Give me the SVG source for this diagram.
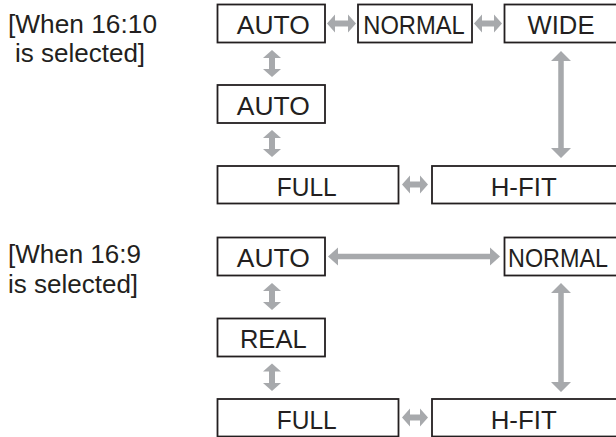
<svg xmlns="http://www.w3.org/2000/svg" width="616" height="437" viewBox="0 0 616 437">
<style>
.box rect{fill:#fff;stroke:#231f20;stroke-width:1.8}
.box text{font-family:"Liberation Sans",Arial,sans-serif;font-size:25.5px;fill:#231f20;text-anchor:middle}
.lbl{font-family:"Liberation Sans",Arial,sans-serif;font-size:26px;fill:#231f20}
.arr polygon{fill:#a7a9ac}
</style>
<rect width="616" height="437" fill="#fff"/>
<g id="label1">
<text class="lbl" x="8" y="33" textLength="149" lengthAdjust="spacingAndGlyphs">[When 16:10</text>
<text class="lbl" x="15" y="62">is selected]</text>
</g>
<g id="label2">
<text class="lbl" x="8" y="263">[When 16:9</text>
<text class="lbl" x="8" y="292.5">is selected]</text>
</g>
<g id="connectors" class="arr">
<polygon points="272,50 281,58 275,58 275,69 281,69 272,77 263,69 269,69 269,58 263,58"/>
<polygon points="272,130 281,138 275,138 275,149 281,149 272,157 263,149 269,149 269,138 263,138"/>
<polygon points="327,23.5 335,14.5 335,20.5 348,20.5 348,14.5 356,23.5 348,32.5 348,26.5 335,26.5 335,32.5"/>
<polygon points="474,23.5 482,14.5 482,20.5 494,20.5 494,14.5 502,23.5 494,32.5 494,26.5 482,26.5 482,32.5"/>
<polygon points="402,184.5 410,175.5 410,181.5 420,181.5 420,175.5 428,184.5 420,193.5 420,187.5 410,187.5 410,193.5"/>
<polygon points="561,51 571,61 563.75,61 563.75,148 571,148 561,158 551,148 558.25,148 558.25,61 551,61"/>
<polygon points="272,283 281,291 275,291 275,302 281,302 272,310 263,302 269,302 269,291 263,291"/>
<polygon points="272,363.5 281,371.5 275,371.5 275,383 281,383 272,391 263,383 269,383 269,371.5 263,371.5"/>
<polygon points="328,256.5 338,247.5 338,253.75 490,253.75 490,247.5 500,256.5 490,265.5 490,259.25 338,259.25 338,265.5"/>
<polygon points="561,283 571,293 563.75,293 563.75,382 571,382 561,392 551,382 558.25,382 558.25,293 551,293"/>
<polygon points="402,417.5 410,408.5 410,414.5 420,414.5 420,408.5 428,417.5 420,426.5 420,420.5 410,420.5 410,426.5"/>
</g>
<g id="auto1" class="box"><rect x="217.5" y="4.5" width="107.5" height="38"/><text x="273.3" y="34" textLength="73" lengthAdjust="spacingAndGlyphs">AUTO</text></g>
<g id="normal1" class="box"><rect x="358" y="4.5" width="114" height="38"/><text x="414" y="34" textLength="101.5" lengthAdjust="spacingAndGlyphs">NORMAL</text></g>
<g id="wide" class="box"><rect x="504.5" y="4.5" width="114" height="38"/><text x="561" y="34" textLength="67" lengthAdjust="spacingAndGlyphs">WIDE</text></g>
<g id="auto2" class="box"><rect x="217.5" y="85" width="107.5" height="38"/><text x="273.3" y="114.5" textLength="73" lengthAdjust="spacingAndGlyphs">AUTO</text></g>
<g id="full1" class="box"><rect x="217.5" y="166" width="181" height="37.5"/><text x="306.7" y="195.5" textLength="60" lengthAdjust="spacingAndGlyphs">FULL</text></g>
<g id="hfit1" class="box"><rect x="432" y="166" width="186" height="37.5"/><text x="523.7" y="195.5" textLength="66" lengthAdjust="spacingAndGlyphs">H-FIT</text></g>
<g id="auto3" class="box"><rect x="217.5" y="237.5" width="107.5" height="38"/><text x="273.3" y="267" textLength="73" lengthAdjust="spacingAndGlyphs">AUTO</text></g>
<g id="normal2" class="box"><rect x="504.5" y="237.5" width="114" height="38"/><text x="558" y="267" textLength="100" lengthAdjust="spacingAndGlyphs">NORMAL</text></g>
<g id="real" class="box"><rect x="217.5" y="318.5" width="107.5" height="38"/><text x="273.3" y="348" textLength="66.7" lengthAdjust="spacingAndGlyphs">REAL</text></g>
<g id="full2" class="box"><rect x="217.5" y="399" width="181" height="37.5"/><text x="306.7" y="428.5" textLength="60" lengthAdjust="spacingAndGlyphs">FULL</text></g>
<g id="hfit2" class="box"><rect x="432" y="399" width="186" height="37.5"/><text x="523.7" y="428.5" textLength="66" lengthAdjust="spacingAndGlyphs">H-FIT</text></g>
</svg>
